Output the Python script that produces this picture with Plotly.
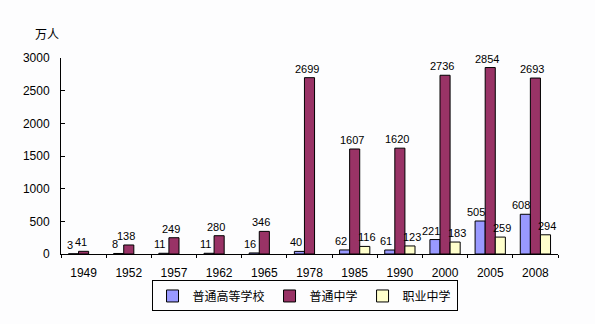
import plotly.graph_objects as go

years = ["1949", "1952", "1957", "1962", "1965", "1978", "1985", "1990", "2000", "2005", "2008"]
higher_ed = [3, 8, 11, 11, 16, 40, 62, 61, 221, 505, 608]
general_ms = [41, 138, 249, 280, 346, 2699, 1607, 1620, 2736, 2854, 2693]
vocational_ms = [None, None, None, None, None, None, 116, 123, 183, 259, 294]

series = [
    ("普通高等学校", higher_ed, "#9999FF"),
    ("普通中学", general_ms, "#993366"),
    ("职业中学", vocational_ms, "#FFFFCC"),
]
# horizontal pixel offset of each series' value labels from the category centre
label_shift = [-14, -3, 12]

font_num = "Liberation Sans, DejaVu Sans, sans-serif"
font_cjk = "Noto Sans CJK SC, sans-serif"

fig = go.Figure()
annotations = []
for (name, vals, col), dx in zip(series, label_shift):
    fig.add_trace(go.Bar(
        name=name, x=years, y=vals,
        marker=dict(color=col, line=dict(color="#000000", width=1)),
    ))
    # category axes place annotations by category index
    for idx, v in enumerate(vals):
        if v is None:
            continue
        annotations.append(dict(
            x=idx, y=v, xref="x", yref="y", text=str(v), showarrow=False,
            xanchor="center", yanchor="bottom", xshift=dx, yshift=1,
            font=dict(family=font_num, size=11, color="#000000"),
        ))

annotations.append(dict(
    text="万人", xref="paper", yref="paper", x=0.0, y=1.07,
    xanchor="right", yanchor="bottom", showarrow=False,
    font=dict(family=font_cjk, size=12, color="#000000"),
))

fig.update_layout(
    width=595, height=324,
    margin=dict(l=61, r=37, t=58, b=68),
    paper_bgcolor="#FDFDFE", plot_bgcolor="#FDFDFE",
    barmode="group", bargap=0.33, bargroupgap=0,
    showlegend=True,
    legend=dict(
        orientation="h", x=0.49, xanchor="center", y=-0.135, yanchor="top",
        bordercolor="#000000", borderwidth=1, bgcolor="#FDFDFE",
        font=dict(family=font_cjk, size=12, color="#000000"),
        itemwidth=30, tracegroupgap=0,
    ),
    xaxis=dict(
        type="category", categoryorder="array", categoryarray=years,
        range=[-0.5, len(years) - 0.5],
        showline=True, linecolor="#000000", linewidth=1,
        ticks="outside", tickson="boundaries", ticklen=3, tickcolor="#000000",
        tickfont=dict(family=font_num, size=12, color="#000000"),
        showgrid=False, ticklabelstandoff=8,
    ),
    yaxis=dict(
        range=[0, 3000], dtick=500,
        showline=True, linecolor="#000000", linewidth=1,
        ticks="inside", ticklen=4, tickcolor="#000000",
        tickfont=dict(family=font_num, size=12, color="#000000"),
        showgrid=False, zeroline=False, ticklabelstandoff=8,
    ),
    annotations=annotations,
)

fig.write_html("out.html")
